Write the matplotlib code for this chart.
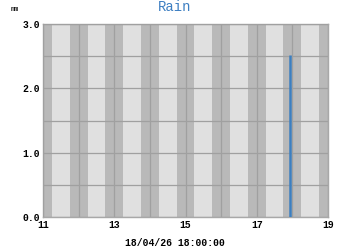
import numpy as np
import matplotlib
matplotlib.use('Agg')
import matplotlib.pyplot as plt

# rain readings (hour of day, mm)
rain_time = [17.93]
rain_mm = [2.52]

x_ticks = [11, 13, 15, 17, 19]
y_ticks = [0.0, 1.0, 2.0, 3.0]
hours = list(range(11, 20))
stamp = '18/04/26 18:00:00'

mono = 'Liberation Mono'

fig = plt.figure(figsize=(3.5, 2.5), dpi=100)
ax = fig.add_axes([0.123, 0.132, 0.814, 0.772])

# light background with darker band around each hour
ax.set_facecolor('#e0e0e0')
for h in hours:
    ax.axvspan(h - 0.25, h + 0.25, color='#b9b9b9', lw=0, zorder=0)

ax.set_xlim(11, 19)
ax.set_ylim(0, 3.0)
ax.set_xticks(hours, minor=True)
ax.set_xticks(x_ticks)
ax.set_yticks(np.arange(0, 3.01, 0.5), minor=True)
ax.set_yticks(y_ticks)
ax.set_xticklabels([str(t) for t in x_ticks], fontfamily=mono, fontweight='bold', fontsize=7)
ax.set_yticklabels(['%.1f' % t for t in y_ticks], fontfamily=mono, fontweight='bold', fontsize=7)
ax.tick_params(which='both', length=0, pad=2)
ax.grid(True, which='both', color='#a0a0a0', lw=0.9)
ax.set_axisbelow(False)

ax.vlines(rain_time, 0, rain_mm, color='#3c7fc0', lw=1.8, zorder=3)

for s in ax.spines.values():
    s.set_color('#a8a8a8')
    s.set_linewidth(1)

fig.text(0.5, 0.972, 'Rain', fontfamily=mono, fontsize=10, color='#3d7fc2',
         ha='center', va='center')
fig.text(0.03, 0.975, 'mm', fontfamily=mono, fontsize=5, va='top', ha='left')
fig.text(0.5, 0.03, stamp, fontfamily=mono, fontweight='bold', fontsize=7,
         ha='center', va='center')

fig.savefig('out.png', dpi=100)
